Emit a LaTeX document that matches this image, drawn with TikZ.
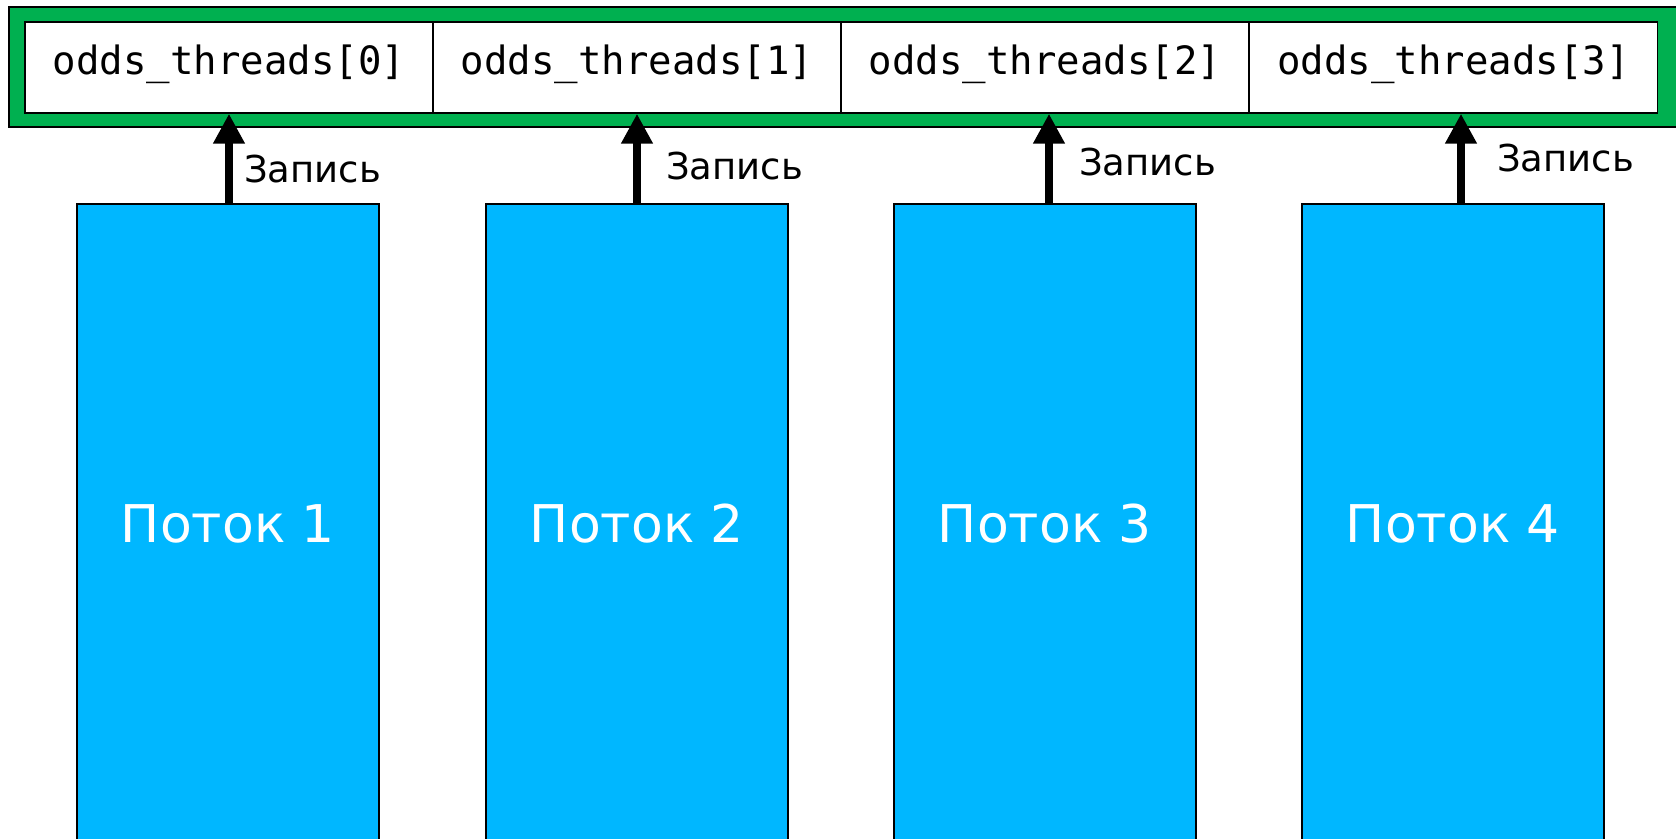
\documentclass[tikz,border=0pt]{standalone}
\usepackage{fontspec}
\setmainfont{DejaVu Sans}
\newfontfamily\monof{DejaVu Sans Mono}
\usetikzlibrary{arrows.meta}
\definecolor{grn}{HTML}{00B050}
\definecolor{blu}{HTML}{00B7FF}
\begin{document}
\begin{tikzpicture}[x=1pt,y=-1pt,
  framebox/.style={draw=black, fill=grn, line width=2pt, minimum width=1681pt, minimum height=120pt, inner sep=0pt},
  cell/.style={draw=black, fill=white, line width=1.4pt, minimum width=408pt, minimum height=91pt, inner sep=0pt,
    font=\monof\fontsize{39}{44}\selectfont, text height=22pt, text depth=9pt},
  thread/.style={draw=black, fill=blu, line width=2pt, minimum width=302pt, minimum height=640pt, inner sep=0pt,
    text=white, font=\fontsize{52}{58}\selectfont},
  wr/.style={-{Triangle[width=30pt,length=30pt]}, line width=8pt, black},
  lbl/.style={anchor=west, inner sep=0pt, font=\fontsize{37}{42}\selectfont}
]
\useasboundingbox (0,0) rectangle (1676,838);
\node[framebox] (frame) at (849.5,67) {};
\node[cell] (c0) at (229,67.5) {odds\_threads[0]};
\node[cell] (c1) at (637,67.5) {odds\_threads[1]};
\node[cell] (c2) at (1045,67.5) {odds\_threads[2]};
\node[cell] (c3) at (1453.5,67.5) {odds\_threads[3]};

\node[thread] (b1) at (228,524) {Поток 1};
\node[thread] (b2) at (637,524) {Поток 2};
\node[thread] (b3) at (1045,524) {Поток 3};
\node[thread] (b4) at (1453,524) {Поток 4};

\draw[wr] ([xshift=1pt]b1.north) -- ([xshift=1pt]b1.north |- c0.south);
\draw[wr] (b2.north) -- (b2.north |- c1.south);
\draw[wr] ([xshift=4pt]b3.north) -- ([xshift=4pt]b3.north |- c2.south);
\draw[wr] ([xshift=8pt]b4.north) -- ([xshift=8pt]b4.north |- c3.south);

\node[lbl] (l1) at (244,169) {Запись};
\node[lbl] (l2) at (666,166) {Запись};
\node[lbl] (l3) at (1079,162) {Запись};
\node[lbl] (l4) at (1497,158) {Запись};
\end{tikzpicture}
\end{document}
